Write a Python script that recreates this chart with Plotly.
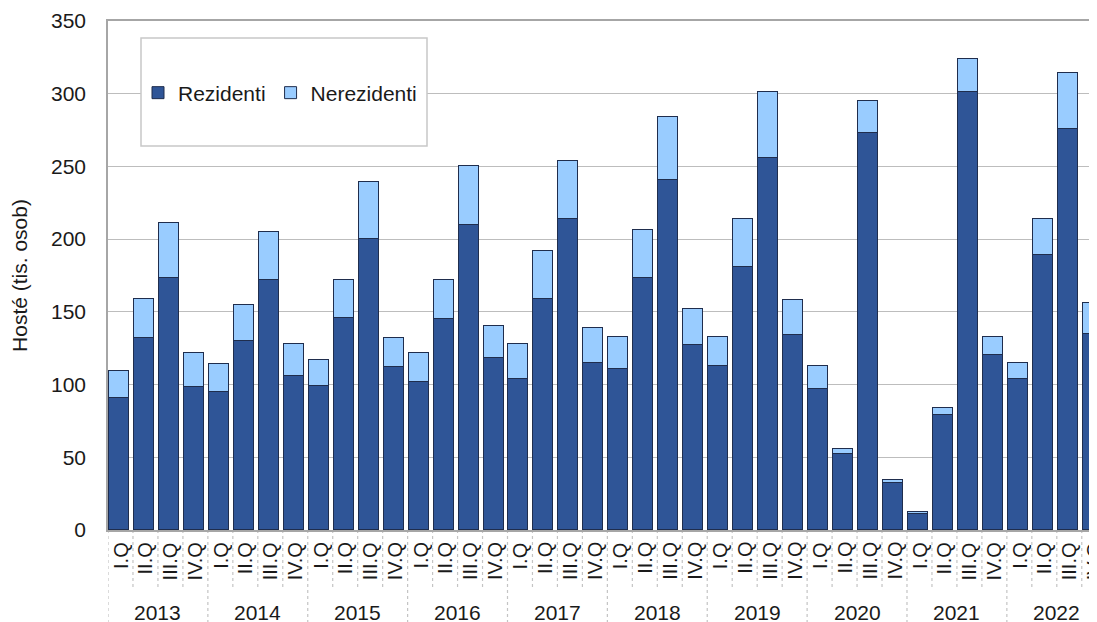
import plotly.graph_objects as go

years = ["2013", "2014", "2015", "2016", "2017", "2018", "2019", "2020", "2021", "2022"]
quarters = ["I.Q", "II.Q", "III.Q", "IV.Q"]

rezidenti = [91, 132, 173, 98,
             95, 130, 172, 106,
             99, 146, 200, 112,
             102, 145, 210, 118,
             104, 159, 214, 115,
             111, 173, 241, 127,
             113, 181, 256, 134,
             97, 52, 273, 32,
             11, 79, 301, 120,
             104, 189, 276, 135]

celkem = [109, 159, 211, 122,
          114, 155, 205, 128,
          117, 172, 239, 132,
          122, 172, 250, 140,
          128, 192, 254, 139,
          133, 206, 284, 152,
          133, 214, 301, 158,
          113, 56, 295, 34.5,
          12.5, 84, 324, 133,
          115, 214, 314, 156]

nerezidenti = [round(t - r, 1) for t, r in zip(celkem, rezidenti)]

y_ticks = [0, 50, 100, 150, 200, 250, 300, 350]

cat_labels = [q for y in years for q in quarters]
xs = list(range(len(cat_labels)))

FONT = "Liberation Sans, Arial, sans-serif"
TXT = "#1a1a1a"
DARK = "#2F5597"
LIGHT = "#99CCFF"
EDGE = "#1F2D4D"

# the page body adds an 8px offset; work in screen pixels and convert
SH = 8
W, HT = 1097 - SH, 622 - SH
L, R, T, B = 108 - SH, 1097 - SH, 21 - SH, 530 - SH
H = B - T


def py(p):
    return (B - (p - SH)) / H


def px(p):
    return ((p - SH) - L) / (R - L)


fig = go.Figure()
fig.add_trace(go.Bar(x=xs, y=rezidenti, name="Rezidenti", offset=-0.46, width=0.8,
                     marker=dict(color=DARK, line=dict(color=EDGE, width=1))))
fig.add_trace(go.Bar(x=xs, y=nerezidenti, name="Nerezidenti", offset=-0.46, width=0.8,
                     marker=dict(color=LIGHT, line=dict(color=EDGE, width=1))))

shapes = []
# legend frame
shapes.append(dict(type="rect", xref="paper", yref="paper",
                   x0=px(141), x1=px(427), y0=py(146), y1=py(38),
                   fillcolor="white", line=dict(color="#C8C8C8", width=1.5), layer="above"))
# category separators
for i in range(len(cat_labels) + 1):
    yr_edge = (i % 4 == 0)
    shapes.append(dict(type="line", xref="x", yref="paper",
                       x0=i - 0.5, x1=i - 0.5, y0=0, y1=py(625 if yr_edge else 590),
                       line=dict(color="#C4C4C4", width=1.2, dash="dot"), layer="below"))

annotations = []
for i, lab in enumerate(cat_labels):
    annotations.append(dict(x=i, y=py(540), xref="x", yref="paper", text=lab,
                            textangle=-90, showarrow=False, yanchor="top", xanchor="center",
                            font=dict(family=FONT, size=20, color=TXT)))
for k, yr in enumerate(years):
    annotations.append(dict(x=4 * k + 1.5, y=py(612), xref="x", yref="paper", text=yr,
                            showarrow=False, yanchor="middle", xanchor="center",
                            font=dict(family=FONT, size=21, color=TXT)))

fig.update_layout(
    width=W, height=HT,
    margin=dict(l=L, r=W - R, t=T, b=HT - B),
    paper_bgcolor="white", plot_bgcolor="white",
    barmode="stack",
    showlegend=True,
    legend=dict(orientation="h", x=px(138), xanchor="left", y=py(93), yanchor="middle",
                traceorder="normal", bgcolor="rgba(0,0,0,0)",
                font=dict(family=FONT, size=21, color=TXT), itemwidth=30),
    xaxis=dict(range=[-0.5, 39.11], showticklabels=False, showgrid=False, zeroline=False,
               showline=True, mirror=True, linecolor="#A6A6A6", linewidth=1.5, ticks=""),
    yaxis=dict(range=[0, 350], tickvals=y_ticks, showgrid=True, gridcolor="#BDBDBD", gridwidth=1.2,
               zeroline=False, showline=True, linecolor="#A6A6A6", linewidth=1.5, ticks="",
               ticklabelstandoff=16,
               tickfont=dict(family=FONT, size=21, color=TXT),
               title=dict(text="Hosté (tis. osob)", standoff=18,
                          font=dict(family=FONT, size=21, color=TXT))),
    shapes=shapes,
    annotations=annotations,
    bargap=0,
)

fig.write_html("out.html")
